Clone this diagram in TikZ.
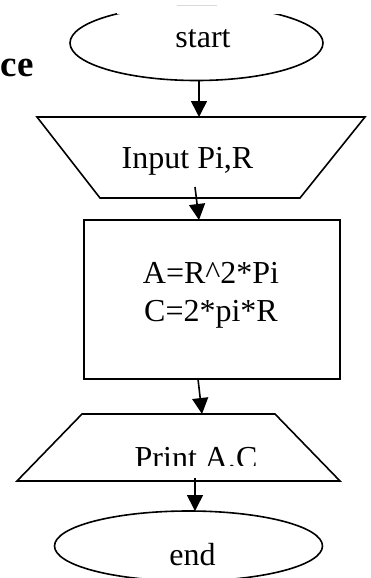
\documentclass[tikz,border=0pt]{standalone}
\usepackage{fontspec}
\setmainfont{Liberation Serif}
\usetikzlibrary{arrows.meta,shapes.geometric}
\begin{document}
\begin{tikzpicture}[x=1pt,y=-1pt,
  outline/.style={draw=black,line width=1.6pt,line join=miter},
  flow/.style={line width=1.6pt,-{Triangle[width=16pt,length=16pt]}},
  txt/.style={font=\fontsize{32}{38}\selectfont,inner sep=0pt,anchor=base},
  terminal/.style={ellipse,draw=black,line width=1.6pt,inner sep=0pt},
  process/.style={rectangle,draw=black,line width=1.6pt,inner sep=0pt}]
\useasboundingbox (0,0) rectangle (371,578);

% heading fragment on the left edge
\node[font=\fontsize{37}{42}\selectfont\bfseries,inner sep=0pt,anchor=base west] (heading) at (0.5,77) {ce};

% start terminal (top of the outline is broken)
\node[terminal,minimum width=253pt,minimum height=75pt] (start) at (196.5,43) {};
\fill[white] (117,-2) rectangle (290,14);
\draw[gray!30,line width=1pt] (177,6) -- (217,6);
\node[txt] (start-label) at (203,48) {start};

% input parallelogram (wide top)
\coordinate (in-tl) at (37,117);
\coordinate (in-tr) at (365,117);
\coordinate (in-br) at (300,198);
\coordinate (in-bl) at (100,198);
\draw[outline] (in-tl) -- (in-tr) -- (in-br) -- (in-bl) -- cycle;
\node[txt] (in-label) at (187.5,168) {Input Pi,R};

% process box
\node[process,minimum width=256pt,minimum height=159pt] (calc) at (212,299.5) {};
\node[txt] (calc-a) at (211,283) {A=R\textasciicircum 2*Pi};
\node[txt] (calc-c) at (211,321) {C=2*pi*R};

% output shape (wide bottom)
\coordinate (out-tl) at (82,414);
\coordinate (out-tr) at (275,414);
\coordinate (out-br) at (340,481);
\coordinate (out-bl) at (17,481);
\draw[outline] (out-tl) -- (out-tr) -- (out-br) -- (out-bl) -- cycle;
\node[txt] (out-label) at (196,468) {Print A,C};
\fill[white] (128,466) rectangle (266,476);

% end terminal
\node[terminal,minimum width=268pt,minimum height=70pt] (end) at (188.5,546) {};
\node[txt] (end-label) at (192.5,565) {end};

% connectors
\coordinate (f1a) at (199,80);  \coordinate (f1b) at (199,117);
\coordinate (f2a) at (195,187); \coordinate (f2b) at (199,220);
\coordinate (f3a) at (198,379); \coordinate (f3b) at (202,414);
\coordinate (f4a) at (195,478); \coordinate (f4b) at (195,511);
\draw[flow] (f1a) -- (f1b);
\draw[flow] (f2a) -- (f2b);
\draw[flow] (f3a) -- (f3b);
\draw[flow] (f4a) -- (f4b);
\end{tikzpicture}
\end{document}
